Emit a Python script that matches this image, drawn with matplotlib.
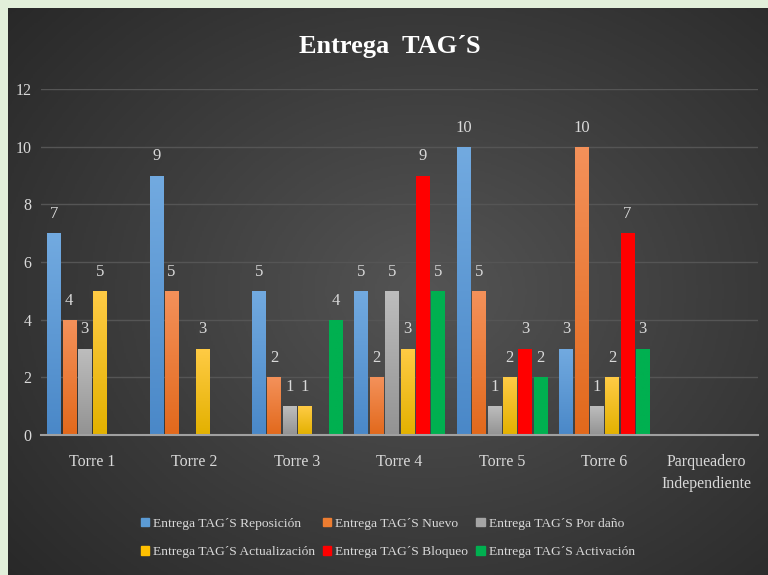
import numpy as np
import matplotlib
matplotlib.use("Agg")
import matplotlib.pyplot as plt
from matplotlib.colors import LinearSegmentedColormap
from matplotlib.patches import Patch

plt.rcParams['font.family'] = ['Liberation Serif', 'DejaVu Serif']

categorias = ["Torre 1", "Torre 2", "Torre 3", "Torre 4", "Torre 5", "Torre 6",
              "Parqueadero\nIndependiente"]
series = ["Entrega TAG´S Reposición", "Entrega TAG´S Nuevo", "Entrega TAG´S Por daño",
          "Entrega TAG´S Actualización", "Entrega TAG´S Bloqueo", "Entrega TAG´S Activación"]
reposicion   = [7, 9, 5, 5, 10, 3, 0]
nuevo        = [4, 5, 2, 2, 5, 10, 0]
por_dano     = [3, 0, 1, 5, 1, 1, 0]
actualizacion = [5, 3, 1, 3, 2, 2, 0]
bloqueo      = [0, 0, 0, 9, 3, 7, 0]
activacion   = [0, 0, 4, 5, 2, 3, 0]
valores = [reposicion, nuevo, por_dano, actualizacion, bloqueo, activacion]

# colores (arriba, abajo) para el degradado de cada serie
colores = [("#72aae0", "#4a88c8"),
           ("#f4915a", "#e2691c"),
           ("#bdbdbd", "#939393"),
           ("#ffcb45", "#e3b100"),
           ("#ff0000", "#ff0000"),
           ("#00b050", "#00b050")]
legend_col = ["#5b9bd5", "#ed7d31", "#a5a5a5", "#ffc000", "#ff0000", "#00b050"]

fig = plt.figure(figsize=(7.68, 5.75), dpi=100)
fig.patch.set_facecolor("#e2efda")

# fondo con degradado radial
bg = fig.add_axes([8 / 768, 0, 1 - 8 / 768, 1 - 8 / 575])
yy, xx = np.mgrid[0:1:300j, 0:1:400j]
r = np.sqrt(((xx - 0.55) / 0.75) ** 2 + ((yy - 0.5) / 0.8) ** 2)
bg_cmap = LinearSegmentedColormap.from_list("bg", ["#545454", "#3d3d3d", "#272727"])
bg.imshow(np.clip(r, 0, 1), cmap=bg_cmap, aspect="auto", extent=[0, 1, 0, 1], vmin=0, vmax=1)
bg.set_axis_off()

ax = fig.add_axes([41 / 768, 1 - 435 / 575, 717 / 768, 346 / 575])
ax.patch.set_alpha(0)

x = np.arange(len(categorias))
slot = 0.150
ancho = 0.13
for i, (vals, (c_top, c_bot)) in enumerate(zip(valores, colores)):
    pos = x + (i - 2.5) * slot
    bars = ax.bar(pos, vals, ancho, color=c_bot, zorder=3, linewidth=0)
    cmap = LinearSegmentedColormap.from_list("g%d" % i, [c_bot, c_top])
    grad = np.linspace(0, 1, 100).reshape(-1, 1)
    for b, v in zip(bars, vals):
        if v == 0:
            continue
        im = ax.imshow(grad, cmap=cmap, origin="lower", aspect="auto", zorder=4,
                       extent=[b.get_x(), b.get_x() + b.get_width(), 0, v])
        im.set_clip_path(b)
        ax.annotate(str(v), (b.get_x() + b.get_width() / 2, v), xytext=(0, 8),
                    textcoords="offset points", ha="center", va="bottom",
                    color="#d9d9d9", fontsize=12, zorder=5)

ax.set_xlim(-0.5, 6.5)
ax.set_ylim(0, 12)
ax.set_yticks(range(0, 13, 2))
ax.set_xticks(x)
ax.set_xticklabels(categorias, linespacing=1.45)
ax.tick_params(colors="#d9d9d9", labelsize=11.5, length=0)
ax.tick_params(axis="x", pad=14)
ax.tick_params(axis="y", pad=7)
ax.grid(axis="y", color="#555555", linewidth=1, zorder=0)
for s in ["top", "right", "left"]:
    ax.spines[s].set_visible(False)
ax.spines["bottom"].set_color("#a0a0a0")
ax.spines["bottom"].set_linewidth(1.5)
ax.spines["bottom"].set_zorder(6)

fig.text(0.508, 1 - 46 / 575, "Entrega  TAG´S", ha="center", va="center",
         color="white", fontsize=19, fontweight="bold")

handles = [Patch(color=c) for c in legend_col]
orden = [0, 3, 1, 4, 2, 5]
leg = fig.legend([handles[k] for k in orden], [series[k] for k in orden], ncol=3,
                 loc="center", bbox_to_anchor=(0.505, 1 - 538 / 575), frameon=False,
                 fontsize=9.7, labelcolor="#d9d9d9", handlelength=0.6, handleheight=0.6,
                 handletextpad=0.3, columnspacing=0.6, labelspacing=1.2)

fig.savefig("out.png", dpi=100)
